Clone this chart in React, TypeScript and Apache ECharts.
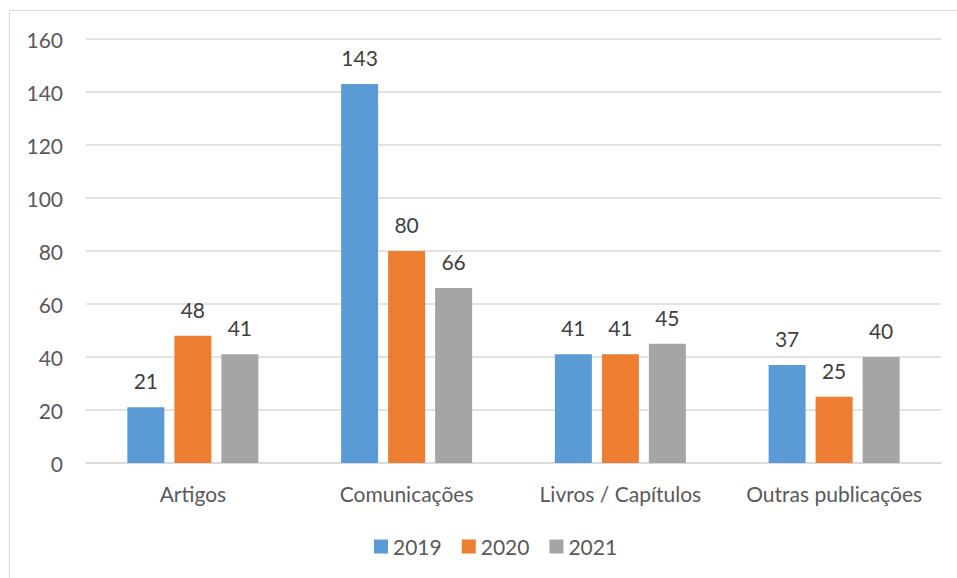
import React, { useEffect, useRef } from "react";
import * as echarts from "echarts";

const categories = ["Artigos", "Comunicações", "Livros / Capítulos", "Outras publicações"];
const years = ["2019", "2020", "2021"];
const values2019 = [21, 143, 41, 37];
const values2020 = [48, 80, 41, 25];
const values2021 = [41, 66, 45, 40];
const colors = ["#5b9bd5", "#ed7d31", "#a5a5a5"];
const yTicks = { min: 0, max: 160, interval: 20 };

export default function App() {
  const ref = useRef<HTMLDivElement>(null);
  useEffect(() => {
    if (!ref.current) return;
    const chart = echarts.init(ref.current, null, { renderer: "svg" });
    const font = "Lato, 'Noto Sans', sans-serif";
    const seriesData = [values2019, values2020, values2021];
    chart.setOption({
      animation: false,
      backgroundColor: "#ffffff",
      textStyle: { fontFamily: font },
      graphic: [
        {
          type: "rect",
          shape: { x: 9.5, y: 10.5, width: 960, height: 580 },
          style: { fill: "none", stroke: "#d9d9d9", lineWidth: 1 },
          silent: true,
        },
      ],
      grid: { left: 86, right: 16, top: 39, bottom: 115, containLabel: false },
      legend: {
        bottom: 16,
        left: 369,
        itemWidth: 14,
        itemHeight: 14,
        itemGap: 20,
        icon: "rect",
        textStyle: { color: "#595959", fontSize: 21, fontFamily: font },
        data: years,
      },
      xAxis: {
        type: "category",
        data: categories,
        axisLine: { lineStyle: { color: "#d9d9d9", width: 1.5 } },
        axisTick: { show: false },
        axisLabel: { color: "#595959", fontSize: 21, margin: 20, interval: 0, fontFamily: font },
      },
      yAxis: {
        type: "value",
        min: yTicks.min,
        max: yTicks.max,
        interval: yTicks.interval,
        axisLine: { show: false },
        axisTick: { show: false },
        axisLabel: { color: "#595959", fontSize: 21, margin: 23, fontFamily: font },
        splitLine: { lineStyle: { color: "#d9d9d9", width: 1.5 } },
      },
      series: years.map((y, i) => ({
        name: y,
        type: "bar",
        data: seriesData[i],
        barGap: "27%",
        barCategoryGap: "38.7%",
        itemStyle: { color: colors[i] },
        label: {
          show: true,
          position: "top",
          distance: 16,
          color: "#404040",
          fontSize: 21,
          fontFamily: font,
        },
      })),
    });
    return () => chart.dispose();
  }, []);
  return (
    <div
      ref={ref}
      style={{ position: "fixed", left: 0, top: 0, width: 957, height: 578 }}
    />
  );
}
